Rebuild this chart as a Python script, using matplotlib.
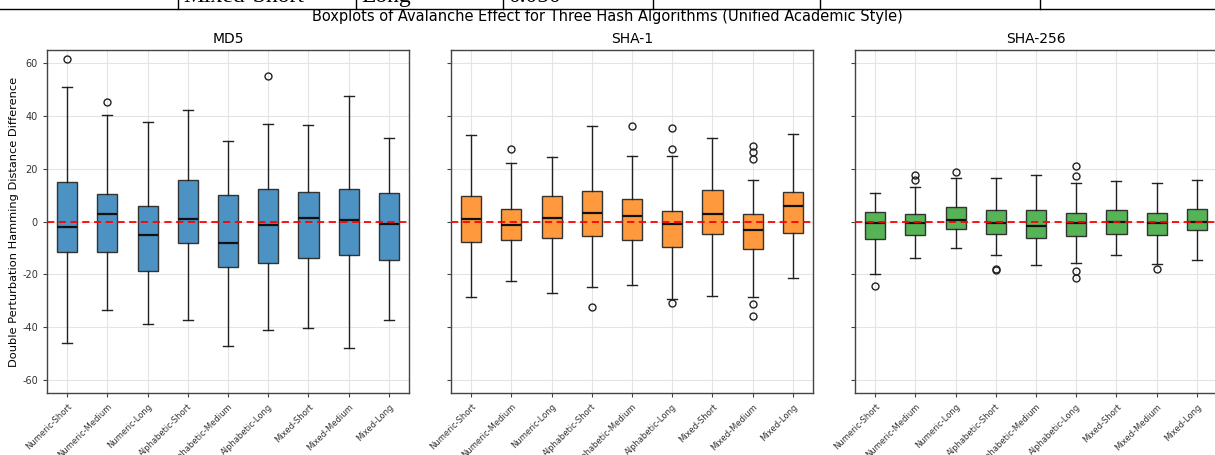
import matplotlib
matplotlib.use("Agg")
import matplotlib.pyplot as plt
from matplotlib.lines import Line2D

plt.rcParams["axes.unicode_minus"] = False

categories = ["Numeric-Short", "Numeric-Medium", "Numeric-Long",
              "Alphabetic-Short", "Alphabetic-Medium", "Alphabetic-Long",
              "Mixed-Short", "Mixed-Medium", "Mixed-Long"]
algorithms = ["MD5", "SHA-1", "SHA-256"]

# per category: lower whisker, Q1, median, Q3, upper whisker
md5_low = [-45.9, -33.5, -38.7, -37.5, -47.1, -41.3, -40.3, -47.8, -37.3]
md5_q1 = [-11.6, -11.6, -18.6, -8.3, -17.3, -15.9, -13.7, -12.6, -14.6]
md5_med = [-2.0, 2.8, -5.0, 1.1, -8.3, -1.3, 1.4, 0.4, -0.9]
md5_q3 = [15.0, 10.3, 5.7, 15.8, 10.2, 12.5, 11.0, 12.5, 10.7]
md5_high = [50.9, 40.3, 37.9, 42.1, 30.5, 37.0, 36.7, 47.5, 31.6]
md5_fliers = [[61.6], [45.2], [], [], [], [55.3], [], [], []]

sha1_low = [-28.5, -22.4, -27.0, -24.8, -24.1, -29.2, -28.2, -28.5, -21.5]
sha1_q1 = [-7.9, -7.2, -6.3, -5.4, -7.1, -9.8, -4.7, -10.5, -4.4]
sha1_med = [1.1, -1.3, 1.4, 3.3, 2.1, -0.8, 2.8, -3.3, 5.7]
sha1_q3 = [9.6, 4.8, 9.7, 11.7, 8.6, 4.0, 11.8, 2.9, 11.1]
sha1_high = [32.8, 22.2, 24.6, 36.3, 25.0, 25.0, 31.5, 15.9, 33.1]
sha1_fliers = [[], [27.3], [], [-32.4], [36.2], [35.5, 27.5, -31.0], [],
               [28.5, 26.5, 23.6, -31.4, -35.7], []]

sha256_low = [-19.9, -13.9, -10.0, -12.6, -16.5, -15.9, -12.7, -16.0, -14.5]
sha256_q1 = [-6.8, -5.3, -2.8, -4.8, -6.3, -5.4, -4.7, -5.0, -3.4]
sha256_med = [-0.4, -0.5, 0.6, -0.5, -1.8, -0.5, 0.0, -0.4, 0.0]
sha256_q3 = [3.5, 3.0, 5.5, 4.2, 4.4, 3.4, 4.4, 3.3, 4.7]
sha256_high = [10.7, 13.2, 16.6, 16.6, 17.6, 14.6, 15.4, 14.7, 15.8]
sha256_fliers = [[-24.4], [17.8, 15.9], [18.8], [-18.1, -18.4], [],
                 [20.9, 17.4, -18.7, -21.5], [], [-17.9], []]

y_ticks = [-60, -40, -20, 0, 20, 40, 60]

# fragment of a table visible at the very top of the reference
table_texts = ["Mixed-Short", "Long", "0.050"]

series = [
    (md5_low, md5_q1, md5_med, md5_q3, md5_high, md5_fliers),
    (sha1_low, sha1_q1, sha1_med, sha1_q3, sha1_high, sha1_fliers),
    (sha256_low, sha256_q1, sha256_med, sha256_q3, sha256_high, sha256_fliers),
]
colors = ["#4C92C3", "#FF993E", "#56B356"]

W, H = 1215, 455
fig = plt.figure(figsize=(W / 100, H / 100), dpi=100)

lefts = [47, 451, 855]
ax_w = 362
ax_bottom, ax_top = 393, 50
axes = []
for i, left in enumerate(lefts):
    ax = fig.add_axes([left / W, 1 - ax_bottom / H, ax_w / W, (ax_bottom - ax_top) / H],
                      sharey=axes[0] if axes else None)
    axes.append(ax)

for i, (ax, s, name, col) in enumerate(zip(axes, series, algorithms, colors)):
    low, q1, med, q3, high, fl = s
    stats = []
    for j, cat in enumerate(categories):
        stats.append(dict(label=cat, whislo=low[j], q1=q1[j], med=med[j],
                          q3=q3[j], whishi=high[j], fliers=fl[j]))
    ax.bxp(stats, positions=range(1, len(categories) + 1), widths=0.5,
           patch_artist=True, showfliers=True,
           boxprops=dict(facecolor=col, edgecolor="#333333", linewidth=1.0),
           medianprops=dict(color="#111111", linewidth=1.6),
           whiskerprops=dict(color="#222222", linewidth=1.0),
           capprops=dict(color="#222222", linewidth=1.0),
           flierprops=dict(marker="o", markerfacecolor="none",
                           markeredgecolor="#222222", markersize=5,
                           markeredgewidth=1.0))
    ax.axhline(0, color="red", linestyle="--", linewidth=1.3, zorder=5,
               dashes=(4, 2.5))
    ax.set_xlim(0.5, len(categories) + 0.5)
    ax.set_ylim(-65, 65)
    ax.set_yticks(y_ticks)
    ax.set_xticks(range(1, len(categories) + 1))
    ax.set_xticklabels(categories, rotation=45, ha="right",
                       rotation_mode="anchor", fontsize=6, color="#333333")
    ax.grid(True, color="#e4e4e4", linewidth=0.8)
    ax.set_axisbelow(True)
    ax.set_title(name, fontsize=10, pad=5)
    for sp in ax.spines.values():
        sp.set_color("#444444")
        sp.set_linewidth(1.0)
    ax.tick_params(axis="both", length=3, color="#444444", labelsize=7,
                   labelcolor="#333333")
    ax.tick_params(axis="x", labelsize=6)
    if i == 0:
        ax.set_ylabel("Double Perturbation Hamming Distance Difference",
                      fontsize=8.2, labelpad=2)
    else:
        ax.tick_params(axis="y", labelleft=False)

fig.text(0.5, 1 - 17 / H, "Boxplots of Avalanche Effect for Three Hash Algorithms "
         "(Unified Academic Style)", ha="center", va="center", fontsize=10.5)

# table fragment at top
fig.add_artist(Line2D([0, 1], [1 - 9 / H, 1 - 9 / H], color="black", linewidth=1.0))
for xv in [178, 356, 503, 653, 820, 1040]:
    fig.add_artist(Line2D([xv / W, xv / W], [1 - 9 / H, 1], color="black",
                          linewidth=1.0))
for txt, xv in zip(table_texts, [183, 361, 508]):
    fig.text(xv / W, 1 - 2 / H, txt, ha="left", va="baseline", fontsize=17,
             family="Liberation Serif")

fig.savefig("out.png", dpi=100)
